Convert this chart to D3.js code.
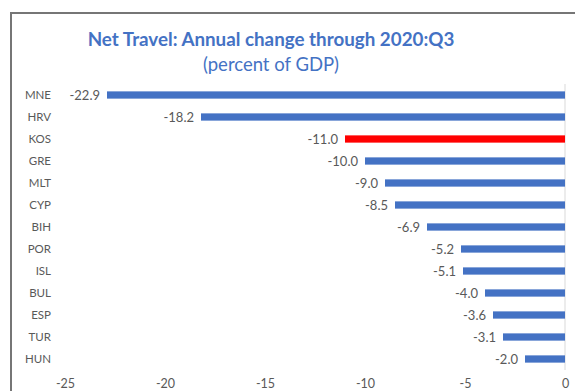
<!DOCTYPE html>
<html>
<head>
<meta charset="utf-8">
<script src="https://cdn.jsdelivr.net/npm/d3@7/dist/d3.min.js"></script>
<style>
  html, body { margin: 0; padding: 0; background: #fff; }
  svg { display: block; }
</style>
</head>
<body>
<svg id="chart" width="575" height="391"></svg>
<script>
// Net travel balance, annual change through 2020:Q3 (percent of GDP)
const countries = ["MNE", "HRV", "KOS", "GRE", "MLT", "CYP", "BIH", "POR", "ISL", "BUL", "ESP", "TUR", "HUN"];
const changes = [-22.9, -18.2, -11.0, -10.0, -9.0, -8.5, -6.9, -5.2, -5.1, -4.0, -3.6, -3.1, -2.0];
const highlighted = ["KOS"];
const xTicks = [-25, -20, -15, -10, -5, 0];

const titleText = "Net Travel: Annual change through 2020:Q3";
const subtitleText = "(percent of GDP)";

const data = countries.map((c, i) => ({ country: c, value: changes[i] }));

const svg = d3.select("#chart");
const font = "Lato, 'Open Sans', sans-serif";
// plain hyphen-minus for negative numbers
const fmt1 = v => d3.format(".1f")(v).replace("\u2212", "-");
const fmt0 = v => d3.format("d")(v).replace("\u2212", "-");

// outer frame
svg.append("path")
  .attr("d", "M11,400 L11,13 L600,13")
  .attr("fill", "none")
  .attr("stroke", "#767676")
  .attr("stroke-width", 2);

// titles
svg.append("text")
  .attr("x", 271).attr("y", 46)
  .attr("text-anchor", "middle")
  .attr("font-family", font)
  .attr("font-weight", "bold")
  .attr("font-size", 18.8)
  .attr("fill", "#4472C4")
  .text(titleText);

svg.append("text")
  .attr("x", 271).attr("y", 71)
  .attr("text-anchor", "middle")
  .attr("font-family", font)
  .attr("font-size", 18.5)
  .attr("fill", "#4472C4")
  .text(subtitleText);

const x = d3.scaleLinear().domain([-25, 0]).range([65, 565]);
const y = d3.scaleBand().domain(countries).range([84, 370]).paddingInner(0.67).paddingOuter(0.335);

// zero line
svg.append("line")
  .attr("x1", x(0)).attr("x2", x(0))
  .attr("y1", 84).attr("y2", 370)
  .attr("stroke", "#d9d9d9").attr("stroke-width", 1);

// bars
svg.append("g").selectAll("rect")
  .data(data)
  .join("rect")
  .attr("x", d => x(d.value))
  .attr("y", d => y(d.country))
  .attr("width", d => x(0) - x(d.value))
  .attr("height", y.bandwidth())
  .attr("fill", d => highlighted.includes(d.country) ? "#FF0000" : "#4472C4");

// value labels
svg.append("g").selectAll("text")
  .data(data)
  .join("text")
  .attr("x", d => x(d.value) - 7)
  .attr("y", d => y(d.country) + y.bandwidth() / 2)
  .attr("dy", "0.35em")
  .attr("text-anchor", "end")
  .attr("font-family", font)
  .attr("font-size", 13)
  .attr("fill", "#595959")
  .text(d => fmt1(d.value));

// category axis
const yAxis = d3.axisLeft(y).tickSize(0).tickPadding(0);
svg.append("g")
  .attr("transform", "translate(51,0)")
  .call(yAxis)
  .call(g => g.select(".domain").remove())
  .call(g => g.selectAll("text")
    .attr("font-family", font)
    .attr("font-size", 11.5)
    .attr("fill", "#595959"));

// value axis
const xAxis = d3.axisBottom(x).tickValues(xTicks).tickSize(0).tickPadding(0).tickFormat(fmt0);
svg.append("g")
  .attr("transform", "translate(0,379)")
  .call(xAxis)
  .call(g => g.select(".domain").remove())
  .call(g => g.selectAll("text")
    .attr("font-family", font)
    .attr("font-size", 12.5)
    .attr("fill", "#595959"));
</script>
</body>
</html>
